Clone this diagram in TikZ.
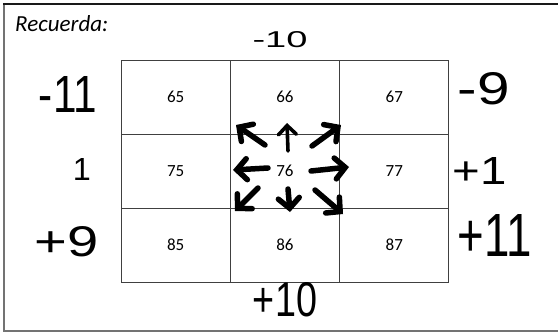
\documentclass[tikz,border=0pt]{standalone}
\usepackage{fontspec}
\usepackage{graphicx}
\setmainfont{Carlito}
\newfontfamily\hwfont{Liberation Sans}
\usetikzlibrary{arrows.meta}
\newcommand{\hwtext}[3]{\resizebox{#1pt}{#2pt}{\hwfont #3}}
\newcommand{\cellnum}[1]{\fontsize{17}{19}\selectfont #1}
\tikzset{
  cell/.style={draw=black!75, line width=1pt, minimum width=109.3pt, minimum height=74pt, inner sep=0pt},
  hand/.style={inner sep=0pt},
  bigarrow/.style={line width=5.5pt, line cap=round, line join=round, -{Straight Barb[length=10pt, width=21pt, line cap=round]}},
  smallarrow/.style={line width=3.6pt, line cap=round, line join=round, -{Straight Barb[length=9pt, width=18pt, line cap=round]}}
}
\begin{document}
\begin{tikzpicture}[x=1pt, y=-1pt]
\useasboundingbox (0,0) rectangle (558,333);
% frame
\draw[black!55, line width=2pt] (4,4) -- (4,331) -- (560,331);
\draw[black!90, line width=2.2pt] (3,4) -- (560,4);
% title
\node[hand, anchor=west] (title) at (15,24) {\fontsize{23}{26}\selectfont\itshape Recuerda:};
% grid
\node[cell] (c65) at (175.65,97) {\cellnum{65}};
\node[cell] (c66) at (284.95,97) {\cellnum{66}};
\node[cell] (c67) at (394.25,97) {\cellnum{67}};
\node[cell] (c75) at (175.65,171) {\cellnum{75}};
\node[cell] (c76) at (284.95,171) {\cellnum{76}};
\node[cell] (c77) at (394.25,171) {\cellnum{77}};
\node[cell] (c85) at (175.65,245) {\cellnum{85}};
\node[cell] (c86) at (284.95,245) {\cellnum{86}};
\node[cell] (c87) at (394.25,245) {\cellnum{87}};
% handwritten offsets
\node[hand] (mten) at (280,40) {\hwtext{55}{16}{-10}};
\node[hand] (mel) at (68,94) {\hwtext{58}{36}{-11}};
\node[hand] (one) at (82,169) {\hwtext{18}{22}{1}};
\node[hand] (pnine) at (67,242) {\hwtext{64}{30}{+9}};
\node[hand] (mnine) at (484,89) {\hwtext{52}{32}{-9}};
\node[hand] (pone) at (480,171) {\hwtext{54}{27}{+1}};
\node[hand] (pel) at (495,235) {\hwtext{74}{42}{+11}};
\node[hand] (pten) at (285,300) {\hwtext{64}{34}{+10}};
% arrow coordinates
\coordinate (tUL) at (265,145); \coordinate (hUL) at (236,125);
\coordinate (tU)  at (288,151); \coordinate (hU)  at (287,123);
\coordinate (tUR) at (312,146); \coordinate (hUR) at (341,125);
\coordinate (tL)  at (268,168); \coordinate (hL)  at (233,170);
\coordinate (tR)  at (311,171); \coordinate (hR)  at (349,167);
\coordinate (tDL) at (258,188); \coordinate (hDL) at (235,211);
\coordinate (tD)  at (288,189); \coordinate (hD)  at (290,212);
\coordinate (tDR) at (315,190); \coordinate (hDR) at (343,214);
\draw[bigarrow] (tUL) -- (hUL);
\draw[smallarrow] (tU) -- (hU);
\draw[bigarrow] (tUR) -- (hUR);
\draw[bigarrow] (tL) -- (hL);
\draw[bigarrow] (tR) -- (hR);
\draw[bigarrow] (tDL) -- (hDL);
\draw[bigarrow] (tD) -- (hD);
\draw[bigarrow] (tDR) -- (hDR);
\end{tikzpicture}
\end{document}
